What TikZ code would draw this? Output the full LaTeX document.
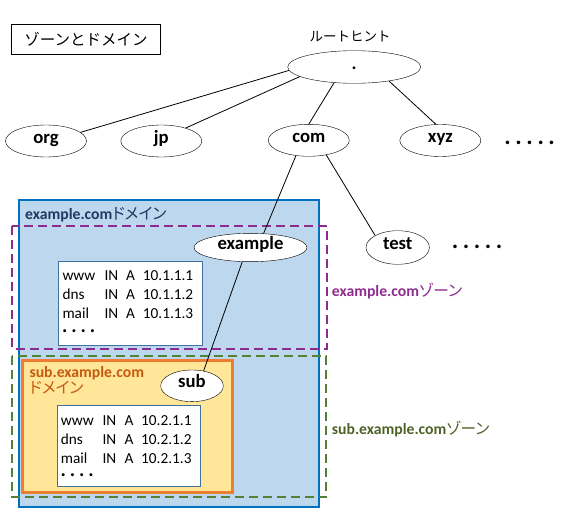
\documentclass[tikz,border=0pt]{standalone}
\usepackage{fontspec}
\setmainfont{Carlito}
\newfontfamily\jpfont[RawFeature=+palt]{Noto Sans CJK JP}
\newfontfamily\jpfull{Noto Sans CJK JP}
\usepackage{tikz}
\usetikzlibrary{shapes.geometric}

\definecolor{domfill}{HTML}{BDD7EE}
\definecolor{domline}{HTML}{0070C0}
\definecolor{domtext}{HTML}{1F3864}
\definecolor{zonepurple}{HTML}{8E2B8E}
\definecolor{zonegreen}{HTML}{548235}
\definecolor{zonegreentext}{HTML}{4F6228}
\definecolor{subfill}{HTML}{FFE699}
\definecolor{subline}{HTML}{ED7D31}
\definecolor{subtext}{HTML}{C55A11}
\definecolor{recline}{HTML}{41719C}

\tikzset{
  tld/.style={ellipse, draw, fill=white, inner sep=0pt, minimum width=81pt, minimum height=32pt,
    text height=0.63em, text depth=0.2em, font=\fontsize{18.7}{20}\selectfont\bfseries},
  link/.style={draw, line width=0.8pt},
  domainbox/.style={draw=domline, fill=domfill, line width=2pt},
  subbox/.style={draw=subline, fill=subfill, line width=2.5pt},
  zonebox/.style={line width=2pt, dash pattern=on 9pt off 5pt},
  recbox/.style={draw=recline, fill=white, line width=0.8pt},
  rec/.style={anchor=base west, inner sep=0pt, font=\fontsize{15.3}{17}\selectfont},
  recmore/.style={anchor=west, inner sep=0pt, font=\fontsize{20}{20}\selectfont\bfseries},
  lbl/.style={anchor=base west, inner sep=0pt, font=\fontsize{15.7}{19}\selectfont},
  more/.style={inner sep=0pt, font=\fontsize{24}{24}\selectfont\bfseries}
}

\begin{document}
\begin{tikzpicture}[x=1pt, y=-1pt]
  \useasboundingbox (0,0) rectangle (575,516);

  % Title
  \node[draw, line width=0.8pt, minimum width=148.6pt, minimum height=29.7pt, inner sep=0pt,
    font=\fontsize{15.5}{17}\selectfont\jpfull] (title) at (86,39.2) {ゾーンとドメイン};

  % Domain and zone boxes
  \draw[domainbox] (19,200) rectangle (319,507);
  \draw[zonebox, draw=zonepurple] (12.3,226) rectangle (326.7,348.7);
  \draw[subbox] (22.3,360.7) rectangle (232.3,492.3);
  \draw[zonebox, draw=zonegreen] (12.3,355.7) rectangle (326,497.3);

  % Resource records
  \draw[recbox] (58.3,261) rectangle (202.3,345.3);
  \draw[recbox] (57.3,405.7) rectangle (200.7,486);
  \foreach \host/\ip [count=\i from 0] in {www/10.1.1.1, dns/10.1.1.2, mail/10.1.1.3}{
    \node[rec] (exhost\i) at (62.3,{280+19*\i}) {\host};
    \node[rec] (exclass\i) at (104.3,{280+19*\i}) {IN};
    \node[rec] (extype\i) at (126,{280+19*\i}) {A};
    \node[rec] (exip\i) at (142.7,{280+19*\i}) {\ip};
  }
  \node[recmore] (exmore) at (62,331) {.\hspace{3.9pt}.\hspace{3.9pt}.\hspace{3.9pt}.};
  \foreach \host/\ip [count=\i from 0] in {www/10.2.1.1, dns/10.2.1.2, mail/10.2.1.3}{
    \node[rec] (subhost\i) at (60.7,{425+19*\i}) {\host};
    \node[rec] (subclass\i) at (102.3,{425+19*\i}) {IN};
    \node[rec] (subtype\i) at (124.3,{425+19*\i}) {A};
    \node[rec] (subip\i) at (141,{425+19*\i}) {\ip};
  }
  \node[recmore] (submore) at (60.4,475) {.\hspace{3.9pt}.\hspace{3.9pt}.\hspace{3.9pt}.};

  % Labels
  \node[lbl, text=domtext] (domlabel) at (25,219) {\textbf{example.com}{\jpfont ドメイン}};
  \node[lbl, text=subtext] (sublabel) at (29.3,377) {\textbf{sub.example.com}};
  \node[lbl, text=subtext] (sublabelb) at (29.3,393.5) {\jpfont ドメイン};
  \node[lbl, text=zonepurple] (exzone) at (331.7,296.7) {\textbf{example.com}{\jpfont ゾーン}};
  \node[lbl, text=zonegreentext] (subzone) at (331.7,434.3) {\textbf{sub.example.com}{\jpfont ゾーン}};

  % Tree
  \node[font=\fontsize{13.5}{15}\selectfont\jpfull, inner sep=0pt] (hint) at (350,36) {ルートヒント};
  \node[tld, minimum width=133pt, minimum height=32.6pt] (root) at (354.2,67) {.};
  \node[tld] (org) at (46,141) {org};
  \node[tld] (jp) at (161.3,141) {jp};
  \node[tld] (com) at (308.8,140.3) {com};
  \node[tld] (xyz) at (440.3,140.5) {xyz};
  \node[more] (moretld) at (529.7,142.7) {.\hspace{4.6pt}.\hspace{4.6pt}.\hspace{4.6pt}.\hspace{4.6pt}.};
  \node[tld, minimum width=113pt, minimum height=28.4pt] (example) at (250.5,247.5) {example};
  \node[tld, minimum width=63.4pt, minimum height=33.6pt] (test) at (397.7,247.5) {test};
  \node[more] (morecom) at (477,246.7) {.\hspace{4.6pt}.\hspace{4.6pt}.\hspace{4.6pt}.\hspace{4.6pt}.};
  \node[tld, minimum width=62.6pt, minimum height=31.6pt] (sub) at (192,385.8) {sub};

  \draw[link] (root.183) -- (org.14);
  \draw[link] (root.190) -- (jp.28);
  \draw[link] (root.218) -- (com.90);
  \draw[link] (root.338) -- (xyz.105);
  \draw[link] (com.230) -- (example.47);
  \draw[link] (com.320) -- (test.152);
  \draw[link] (example.240) -- (sub.52);
\end{tikzpicture}
\end{document}
